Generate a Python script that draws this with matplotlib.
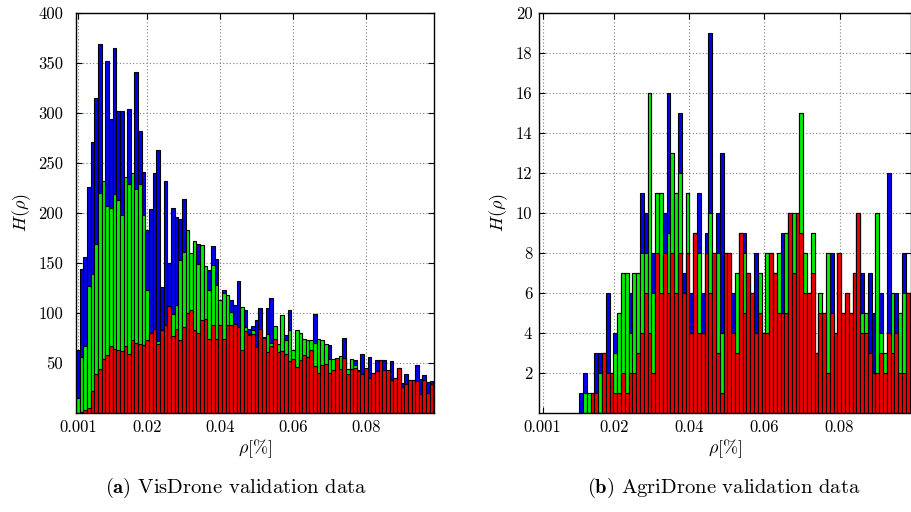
import numpy as np
import matplotlib
matplotlib.use("Agg")
import matplotlib.pyplot as plt

plt.rcParams["font.family"] = "cmr10"
plt.rcParams["mathtext.fontset"] = "cm"
plt.rcParams["axes.unicode_minus"] = False

# VisDrone validation data, 98 bins of width 0.001 centred at 0.001 .. 0.098
vis_blue = [63, 144, 156, 226, 271, 315, 369, 230, 352, 294,
            365, 302, 302, 234, 304, 238, 341, 282, 241, 183,
            204, 240, 263, 126, 232, 150, 205, 196, 194, 214,
            182, 158, 170, 169, 166, 145, 143, 167, 154, 111,
            123, 116, 113, 108, 132, 104, 103, 84, 87, 93,
            105, 75, 105, 115, 85, 68, 96, 78, 103, 62,
            81, 78, 72, 71, 72, 99, 72, 71, 67, 68,
            53, 54, 56, 75, 43, 53, 53, 42, 59, 44,
            56, 40, 53, 53, 53, 42, 52, 35, 45, 30,
            39, 33, 33, 48, 34, 38, 31, 32]
vis_green = [15, 56, 67, 127, 139, 169, 220, 232, 207, 205,
             219, 213, 198, 236, 229, 240, 224, 229, 198, 123,
             78, 82, 72, 80, 86, 104, 99, 108, 153, 161,
             183, 160, 172, 149, 168, 147, 123, 148, 128, 113,
             120, 118, 101, 88, 85, 106, 86, 79, 83, 65,
             83, 76, 79, 70, 87, 69, 98, 73, 83, 63,
             83, 80, 74, 73, 73, 70, 74, 73, 69, 54,
             54, 54, 57, 54, 44, 54, 48, 43, 38, 44,
             34, 39, 41, 52, 42, 42, 32, 34, 44, 26,
             28, 32, 32, 31, 18, 32, 19, 28]
vis_red = [0, 1, 3, 5, 22, 39, 44, 54, 58, 67,
           64, 63, 62, 67, 59, 73, 70, 69, 68, 73,
           80, 84, 69, 83, 88, 107, 77, 84, 73, 86,
           100, 103, 83, 80, 93, 94, 74, 88, 74, 88,
           74, 88, 88, 89, 86, 63, 82, 78, 79, 66,
           84, 75, 61, 67, 74, 61, 62, 59, 52, 54,
           46, 53, 58, 56, 63, 47, 40, 48, 49, 40,
           43, 55, 44, 55, 39, 44, 45, 42, 39, 45,
           35, 40, 42, 53, 43, 43, 33, 35, 45, 26,
           29, 33, 33, 32, 19, 33, 20, 29]

# AgriDrone validation data, 88 bins
agri_blue = [1, 2, 1, 1, 3, 3, 3, 6, 2, 4,
             5, 7, 7, 6, 7, 7, 11, 10, 16, 8,
             11, 11, 10, 16, 13, 11, 15, 7, 11, 6,
             9, 11, 6, 9, 19, 8, 10, 13, 8, 8,
             6, 7, 9, 9, 7, 6, 8, 7, 4, 8,
             8, 7, 8, 9, 9, 10, 10, 10, 15, 8,
             6, 9, 3, 6, 5, 8, 8, 4, 8, 5,
             6, 5, 7, 10, 7, 5, 7, 5, 10, 6,
             3, 12, 6, 6, 5, 8, 6, 6]
agri_green = [0, 1, 1, 1, 0, 2, 3, 2, 2, 3,
              5, 7, 7, 4, 7, 7, 8, 8, 16, 6,
              11, 11, 8, 9, 13, 11, 12, 6, 11, 4,
              9, 8, 4, 8, 10, 8, 8, 4, 8, 8,
              4, 7, 9, 8, 7, 6, 4, 7, 4, 8,
              8, 7, 8, 5, 9, 10, 10, 10, 15, 8,
              6, 9, 3, 6, 5, 8, 5, 4, 8, 5,
              6, 5, 7, 10, 5, 5, 3, 2, 10, 4,
              3, 4, 6, 4, 5, 6, 6, 6]
agri_red = [0, 0, 0, 1, 1, 0, 3, 2, 2, 1,
            1, 2, 1, 2, 2, 3, 4, 6, 4, 2,
            8, 6, 8, 6, 8, 6, 8, 6, 8, 4,
            9, 4, 4, 8, 6, 8, 3, 1, 8, 8,
            4, 3, 9, 5, 7, 6, 4, 5, 4, 4,
            8, 7, 5, 5, 5, 10, 7, 10, 9, 6,
            6, 7, 3, 5, 5, 2, 5, 4, 8, 5,
            6, 5, 7, 10, 4, 4, 3, 2, 2, 3,
            2, 4, 3, 4, 2, 2, 6, 6]

vis_x = 0.001 * np.arange(1, len(vis_blue) + 1)
vis_w = 0.001
agri_w = 0.00101
agri_x = 0.01075 + agri_w * (np.arange(len(agri_blue)) + 0.5)

fig = plt.figure(figsize=(9.12, 5.12), dpi=100)
ax1 = fig.add_axes([0.083, 0.194, 0.393, 0.781])
ax2 = fig.add_axes([0.5913, 0.194, 0.4072, 0.781])


def panel(ax, x, w, series, ylim, yticks, xlim, ypad):
    for vals, c in zip(series, ["#0000ee", "#00ee00", "#ee0000"]):
        ax.bar(x, vals, width=w, color=c, edgecolor="black", linewidth=0.8)
    ax.set_xlim(*xlim)
    ax.set_ylim(*ylim)
    ax.set_xticks([0.001, 0.02, 0.04, 0.06, 0.08])
    ax.set_xticklabels(["0.001", "0.02", "0.04", "0.06", "0.08"])
    ax.set_yticks(yticks)
    ax.set_yticklabels([str(t) for t in yticks])
    ax.set_axisbelow(True)
    ax.grid(True, linestyle=(0, (1, 2)), color="0.5", linewidth=0.8)
    ax.tick_params(direction="in", top=True, right=True, length=4,
                   width=0.8, labelsize=12)
    ax.tick_params(axis="x", pad=5)
    ax.tick_params(axis="y", pad=ypad)
    for s in ax.spines.values():
        s.set_linewidth(1.0)
    ax.set_xlabel(r"$\rho[\%]$", fontsize=13, labelpad=2)
    ax.set_ylabel(r"$H(\rho)$", fontsize=13, labelpad=4)


panel(ax1, vis_x, vis_w, [vis_blue, vis_green, vis_red], (0, 400),
      list(range(50, 401, 50)), (0.00037, 0.0987), 9)
panel(ax2, agri_x, agri_w, [agri_blue, agri_green, agri_red], (0, 20),
      list(range(2, 21, 2)), (0.0001, 0.0989), 5)

fig.text(0.259, 0.038, r"$\mathbf{(a)}$ VisDrone validation data",
         ha="center", fontsize=14.8)
fig.text(0.794, 0.038, r"$\mathbf{(b)}$ AgriDrone validation data",
         ha="center", fontsize=14.8)

fig.savefig("out.png", dpi=100)
